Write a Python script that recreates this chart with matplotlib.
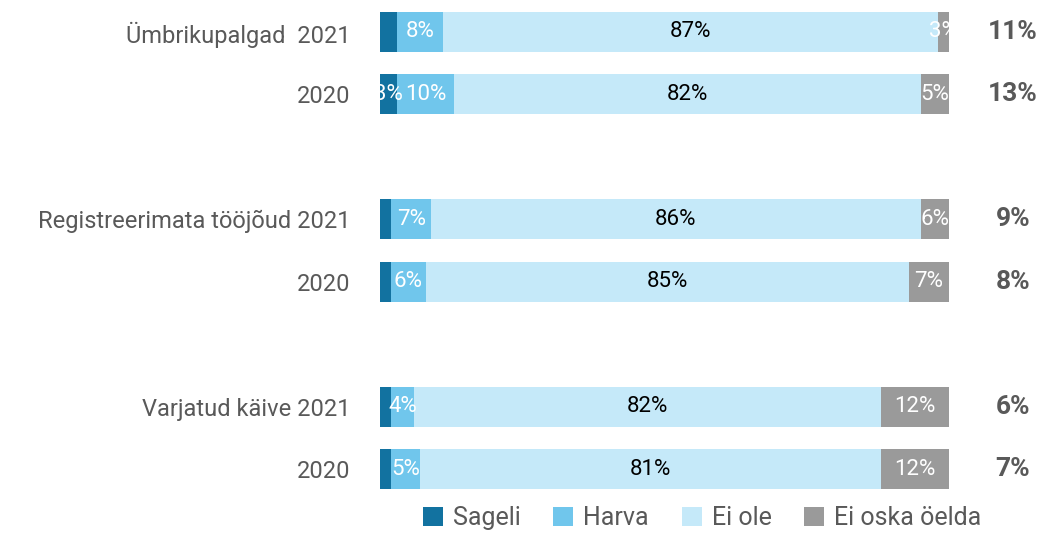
import matplotlib.pyplot as plt
from matplotlib import font_manager

# data
row_labels = ['Ümbrikupalgad  2021', '2020', 'Registreerimata tööjõud 2021', '2020',
              'Varjatud käive 2021', '2020']
row_pos = [0, 1, 3, 4, 6, 7]
sageli = [3, 3, 2, 2, 2, 2]
harva = [8, 10, 7, 6, 4, 5]
ei_ole = [87, 82, 86, 85, 82, 81]
ei_oska = [3, 5, 6, 7, 12, 12]
sageli_labels = ['', '3%', '', '', '', '']
totals = ['11%', '13%', '9%', '8%', '6%', '7%']
series_names = ['Sageli', 'Harva', 'Ei ole', 'Ei oska öelda']

colors = ['#1272a0', '#70c6ec', '#c5e9f9', '#9a9a9a']
text_gray = '#595959'

names = [f.name for f in font_manager.fontManager.ttflist]
family = 'Liberation Sans Narrow' if 'Liberation Sans Narrow' in names else 'Roboto'
plt.rcParams['font.family'] = [family, 'DejaVu Sans']

fig = plt.figure(figsize=(10.45, 5.34), dpi=100)
ax = fig.add_axes([380 / 1045, 1 - 489 / 534, 569 / 1045, 477 / 534])

h = 0.64
left = [0] * len(row_pos)
series = [sageli, harva, ei_ole, ei_oska]
bars = []
for vals, c, name in zip(series, colors, series_names):
    b = ax.barh(row_pos, vals, left=left, height=h, color=c, label=name)
    bars.append(b)
    left = [l + v for l, v in zip(left, vals)]

# labels inside segments
ax.bar_label(bars[0], labels=sageli_labels, label_type='center', color='white', fontsize=16)
ax.bar_label(bars[1], labels=[f'{v}%' for v in harva], label_type='center', color='white', fontsize=16)
ax.bar_label(bars[2], labels=[f'{v}%' for v in ei_ole], label_type='center', color='black', fontsize=16)
ax.bar_label(bars[3], labels=[f'{v}%' for v in ei_oska], label_type='center', color='white', fontsize=16)

for y, t in zip(row_pos, totals):
    ax.text(111.2, y, t, ha='center', va='center', fontsize=19, fontweight='bold',
            color=text_gray, clip_on=False)

ax.set_xlim(0, 100)
ax.set_ylim(7.32, -0.32)
ax.set_yticks(row_pos)
ax.set_yticklabels(row_labels, fontsize=17, color=text_gray)
ax.tick_params(axis='y', length=0, pad=21)
ax.set_xticks([])
for s in ax.spines.values():
    s.set_visible(False)

fig.legend(loc='lower center', bbox_to_anchor=(0.672, -0.035), ncol=4, frameon=False,
           fontsize=18, handlelength=0.8, handleheight=0.8, handletextpad=0.4,
           columnspacing=1.3, labelcolor=text_gray)

plt.savefig('out.png', dpi=100)
